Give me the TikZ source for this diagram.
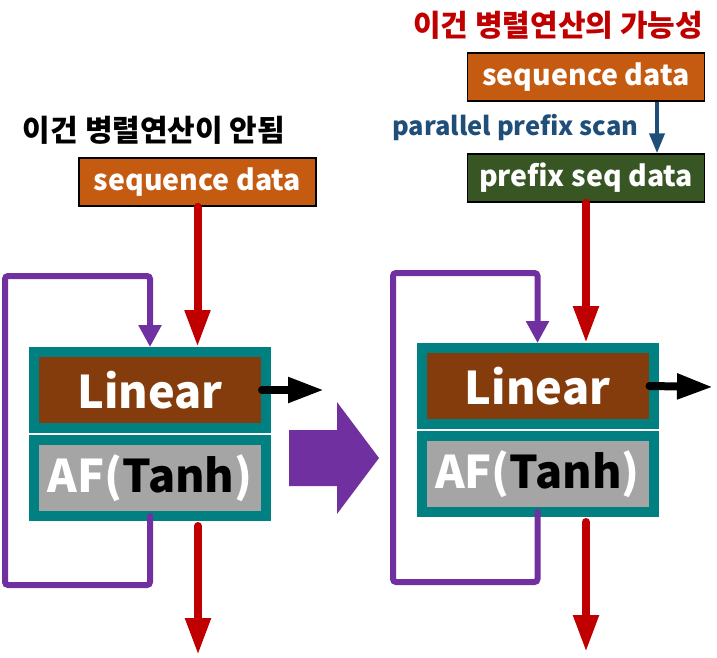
\documentclass[tikz,border=0pt]{standalone}
\usepackage{fontspec}
\setmainfont{Noto Sans CJK KR}
\usetikzlibrary{arrows.meta,positioning}
\definecolor{Teal}{HTML}{008080}
\definecolor{Rust}{HTML}{843C0C}
\definecolor{Ash}{HTML}{A5A5A5}
\definecolor{Pumpkin}{HTML}{C55A11}
\definecolor{Moss}{HTML}{375623}
\definecolor{Crimson}{HTML}{C00000}
\definecolor{Violet}{HTML}{7030A0}
\definecolor{Steel}{HTML}{1F4E79}

\begin{document}
\begin{tikzpicture}[x=1pt, y=-1pt,
        module/.style={draw=Teal, line width=10pt, minimum width=232pt, minimum height=76pt, text=white, font=\fontsize{45}{50}\selectfont\bfseries},
        databox/.style={draw=black, line width=1.5pt, minimum width=237pt, minimum height=48pt, text=white, font=\fontsize{28.5}{32}\selectfont\bfseries},
        title/.style={font=\fontsize{30}{34}\selectfont\bfseries},
        flow/.style={-{Triangle[length=37pt,width=24pt]}, line width=8pt, draw=Crimson, line cap=round},
        loopline/.style={-{Triangle[length=22pt,width=22pt]}, line width=6pt, draw=Violet, rounded corners=3pt, line cap=round},
        outarrow/.style={-{Triangle[length=36pt,width=24pt]}, line width=8pt, line cap=round},
        scanarrow/.style={-{Triangle[length=20pt,width=15pt]}, line width=4pt, draw=Steel}
    ]
        \useasboundingbox (0,0) rectangle (717,657);

        % left: plain recurrence
        \node[title] (t1) at (154,130) {이건 병렬연산이 안됨};
        \node[databox, fill=Pumpkin] (seq1) at (197.5,182) {sequence data};
        \node[module, fill=Rust] (lin1) at (150,390) {Linear};
        \node[module, fill=Ash, below=2pt of lin1] (af1) {AF(\textcolor{black}{Tanh})};
        \coordinate (bot1) at (5,585);
        \coordinate (top1) at (5,276);
        \coordinate (out1) at (324,390);
        \coordinate (down1) at (198,655);

        \draw[flow] (seq1) -- (seq1 |- lin1.north);
        \draw[loopline] ([yshift=5pt]af1.south) |- (bot1) -- (top1) -| (lin1.north);
        \draw[outarrow] ([xshift=-9pt]lin1.east) -- (out1);
        \draw[flow] ([yshift=-5pt]af1.south -| down1) -- (down1);

        % big arrow between the two
        \fill[Violet] (289,430) -- (337,430) -- (337,402) -- (379,458) -- (337,514) -- (337,486) -- (289,486) -- cycle;

        % right: with prefix scan
        \node[title, text=Crimson] (t2) at (558,25) {이건 병렬연산의 가능성};
        \node[databox, fill=Pumpkin] (seq2) at (586,77) {sequence data};
        \node[databox, fill=Moss] (pref2) at (586,178) {prefix seq data};
        \node[title, text=Steel, font=\fontsize{25.5}{30}\selectfont\bfseries, anchor=east] (scan2) at (642,128) {parallel prefix scan};
        \node[module, fill=Rust] (lin2) at (537.5,386) {Linear};
        \node[module, fill=Ash, below=2pt of lin2] (af2) {AF(\textcolor{black}{Tanh})};
        \coordinate (bot2) at (393,582);
        \coordinate (top2) at (393,273);
        \coordinate (out2) at (713,387);
        \coordinate (down2) at (586,652);

        \draw[scanarrow] ([xshift=71pt]seq2.south) -- ([xshift=71pt]seq2.south |- pref2.north);
        \draw[flow] (pref2) -- (pref2 |- lin2.north);
        \draw[loopline] ([yshift=5pt]af2.south) |- (bot2) -- (top2) -| (lin2.north);
        \draw[outarrow] ([xshift=-9pt]lin2.east) -- (out2);
        \draw[flow] ([yshift=-5pt]af2.south -| down2) -- (down2);
    \end{tikzpicture}
\end{document}
